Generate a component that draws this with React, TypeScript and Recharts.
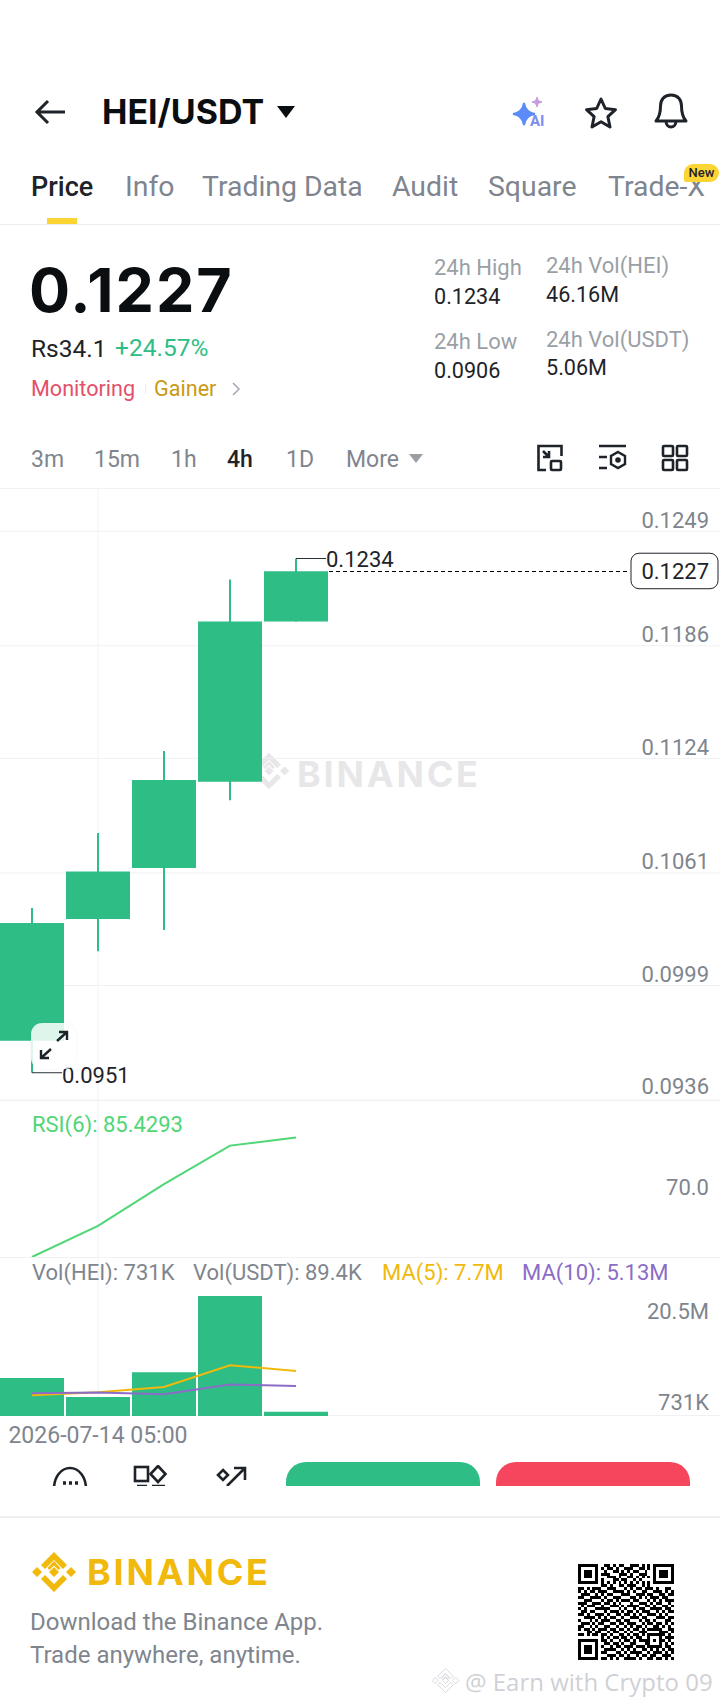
import React from "react"
import {
  Bar,
  CartesianGrid,
  ComposedChart,
  Line,
  ReferenceDot,
  XAxis,
  YAxis,
} from "recharts"

const categories = [
  "2026-07-14 01:00",
  "2026-07-14 05:00",
  "2026-07-14 09:00",
  "2026-07-14 13:00",
  "2026-07-14 17:00",
  "2026-07-14 21:00",
  "2026-07-15 01:00",
  "2026-07-15 05:00",
  "2026-07-15 09:00",
  "2026-07-15 13:00",
  "2026-07-15 17:00",
]

const opens = [0.09686, 0.10356, 0.10637, 0.11112, 0.11993]
const closes = [0.10334, 0.10617, 0.11121, 0.11993, 0.1227]
const highs = [0.10417, 0.10829, 0.11281, 0.12224, 0.1234]
const lows = [0.0951, 0.10178, 0.10296, 0.11009, 0.11993]
const rsi = [56.74, 64.24, 74.24, 83.51, 85.43]
const volumes = [6500000, 3250000, 7480000, 20500000, 731000]
const ma5 = [3550000, 4060000, 4970000, 8680000, 7700000]
const ma10 = [3890000, 4010000, 3720000, 5380000, 5130000]

const priceTicks = [0.1249, 0.1186, 0.1124, 0.1061, 0.0999, 0.0936]
const rsiTicks = [70]
const volumeTicks = [20500000, 731000]
const volumeTickLabels = ["20.5M", "731K"]

const tabs = ["Price", "Info", "Trading Data", "Audit", "Square", "Trade-X"]
const intervals = ["3m", "15m", "1h", "4h", "1D", "More"]

const qrRows = [
  "111111100110101100111010101111111",
  "100000101011010011100110101000001",
  "101110100100110101011001001011101",
  "101110101110001110100111001011101",
  "101110100011101001101010101011101",
  "100000101000110110010100001000001",
  "111111101010101010101010101111111",
  "000000001101001101110010100000000",
  "110101110011100010101101110100110",
  "101011011100111101010011001110101",
  "011100101011000111001110110011011",
  "110011110100111000110101011101100",
  "001110001011010111011000101010111",
  "111001110110101000100111010110010",
  "010111001001110101111001101001101",
  "101000111110001010010110011110110",
  "011011000101110101101011100101011",
  "110100111010011011010100111010100",
  "001111010101100100111011000111011",
  "100010101110011011000101101000110",
  "011101011001101101110010110110101",
  "110010100110010010101101001101010",
  "101101011101101101011010111110011",
  "000110110010110010100111000011101",
  "110101101101001101011010111111010",
  "000000001010110110101100100010111",
  "111111101101001011010111101011010",
  "100000100110110100110001100010101",
  "101110101001011011101110111110110",
  "101110100111100101010011010101011",
  "101110101100011010111100101110101",
  "100000100011101101001011011001110",
  "111111101101010011110100110110101",
]

const GREEN = "#2ebd85"
const GRID = "#f0f1f3"
const AXIS_TEXT = "#7f858e"
const FONT = "Roboto, sans-serif"
const HEAVY = "Inter, sans-serif"

const priceData = categories.map((category, i) => ({
  category,
  body: opens[i] === undefined ? null : [opens[i], closes[i]],
  wick: opens[i] === undefined ? null : [lows[i], highs[i]],
}))

const rsiData = categories.map((category, i) => ({ category, rsi: rsi[i] ?? null }))

const volumeData = categories.map((category, i) => ({
  category,
  volume: volumes[i] ?? null,
  ma5: ma5[i] ?? null,
  ma10: ma10[i] ?? null,
}))

function T({ x, y, size, color = "#1e2329", weight = 400, font = FONT, spacing, children }: any) {
  return (
    <div
      style={{
        position: "absolute",
        left: x,
        top: y,
        transform: "translateY(-50%)",
        fontSize: size,
        color,
        fontWeight: weight,
        fontFamily: font,
        letterSpacing: spacing,
        lineHeight: 1,
        whiteSpace: "nowrap",
      }}
    >
      {children}
    </div>
  )
}

function AxisTick({ y, payload, dy, labels, ticks }: any) {
  const idx = ticks.indexOf(payload.value)
  const text = labels ? labels[idx] : payload.value.toFixed(4)
  return (
    <text x={710} y={y + dy[idx]} textAnchor="end" dominantBaseline="central" fontSize={22} fontFamily={FONT} fill={AXIS_TEXT}>
      {text}
    </text>
  )
}

function ExtremeLabel({ cx, cy, value, dy = 1 }: any) {
  return (
    <g>
      <line x1={cx} y1={cy} x2={cx + 30} y2={cy} stroke="#2b3139" strokeWidth={1} />
      <text x={cx + 30} y={cy + dy} dominantBaseline="central" fontSize={22} fontFamily={FONT} fill="#1e2329">
        {value}
      </text>
    </g>
  )
}

function LastPrice({ cx, cy, value }: any) {
  return (
    <g>
      <line x1={cx + 33} y1={cy} x2={630} y2={cy} stroke="#000" strokeWidth={1} strokeDasharray="4 3" shapeRendering="crispEdges" />
      <rect x={632} y={cy - 18} width={87} height={35.5} rx={8} fill="#fff" stroke="#1e2329" strokeWidth={1} />
      <text x={710} y={cy} textAnchor="end" dominantBaseline="central" fontSize={22} fontFamily={FONT} fill="#1e2329">
        {value}
      </text>
    </g>
  )
}

function BinanceMark({ x, y, size, color, outline }: any) {
  const paint = outline
    ? { fill: "none", stroke: color, strokeWidth: 1.5 }
    : { fill: color }
  return (
    <svg style={{ position: "absolute", left: x, top: y }} width={size} height={size} viewBox="0 0 48 48">
      <path d="M24 17.5l4.5 4.5 2-2L24 13l-6.5 7 2 2z M24 4l-13 13 4 4 9-9 9 9 4-4z" {...paint} />
      <path d="M2 24l5-5 5 5-5 5z M36 24l5-5 5 5-5 5z M19 24l5-5 5 5-5 5z" {...paint} />
      <path d="M24 44L11 31l4-4 9 9 9-9 4 4z" {...paint} />
    </svg>
  )
}

function Qr() {
  const cell = 95.5 / qrRows.length
  return (
    <svg style={{ position: "absolute", left: 577.5, top: 1564 }} width={96} height={96} shapeRendering="crispEdges">
      {qrRows.map((row, r) =>
        row.split("").map((c, col) =>
          c === "1" ? <rect key={`${r}-${col}`} x={col * cell} y={r * cell} width={cell} height={cell} fill="#000" /> : null
        )
      )}
    </svg>
  )
}

function Icon({ x, y, w, h, children }: any) {
  return (
    <svg style={{ position: "absolute", left: x, top: y, overflow: "hidden" }} width={w} height={h} viewBox={`0 0 ${w} ${h}`} fill="none" stroke="#1e2329" strokeWidth={2.6}>
      {children}
    </svg>
  )
}

export default function App() {
  return (
    <div style={{ position: "absolute", left: 0, top: 0, width: 720, height: 1706, background: "#fff", overflow: "hidden" }}>
      {/* header */}
      <Icon x={33} y={98} w={34} h={28}>
        <path d="M32 14H4 M15 3L4 14l11 11" strokeWidth={3} />
      </Icon>
      <T x={102} y={112} size={34} weight={700} color="#0b0e11" font={HEAVY}>HEI/USDT</T>
      <svg style={{ position: "absolute", left: 277, top: 106 }} width={18} height={12}>
        <path d="M0 0h18L9 12z" fill="#0b0e11" />
      </svg>
      <svg style={{ position: "absolute", left: 511, top: 96 }} width={40} height={34} viewBox="0 0 40 34">
        <path d="M13 7c1 6.500 4 10 11 11-7 1-10 4.500-11 11-1-6.500-4-10-11-11 7-1 10-4.500 11-11z" fill="#5b8cf7" stroke="#5b8cf7" strokeWidth={2} />
        <path d="M26 1c.5 3 2 4.500 5 5-3 .5-4.500 2-5 5-.5-3-2-4.500-5-5 3-.5 4.500-2 5-5z" fill="#c79be0" stroke="#c79be0" />
        <text x={19} y={30} fontSize={15} fontWeight={700} fontFamily={FONT} fill="#7d8cf0">AI</text>
      </svg>
      <Icon x={584} y={96} w={36} h={34}>
        <path d="M17 3l4.300 9.500 10.200 1.200-7.600 7 2.100 10.300-9-5.200-9 5.200 2.100-10.300-7.600-7 10.200-1.200z" strokeWidth={3} strokeLinejoin="round" />
      </Icon>
      <Icon x={653} y={92} w={36} h={38}>
        <path d="M18 3c-7 0-10.500 5-10.500 11 0 7-1 11-4.500 15h30c-3.500-4-4.500-8-4.500-15C28.500 8 25 3 18 3z M13 29c0 4 2.500 6 5 6s5-2 5-6" strokeWidth={3} strokeLinejoin="round" />
      </Icon>

      {/* tabs */}
      {tabs.map((tab, i) => (
        <T key={tab} x={[31, 125, 202, 392, 488, 608][i]} y={187} size={i === 0 ? 27 : 28.4} weight={i === 0 ? 500 : 400} color={i === 0 ? "#1e2329" : "#7f858e"}>
          {tab}
        </T>
      ))}
      <div style={{ position: "absolute", left: 684, top: 164, width: 35, height: 18, background: "#fcd535", borderRadius: "9px 9px 9px 2px", fontSize: 13, fontWeight: 500, fontFamily: FONT, color: "#1e2329", textAlign: "center", lineHeight: "18px" }}>New</div>
      <div style={{ position: "absolute", left: 47, top: 218, width: 30, height: 6, background: "#fcd535" }} />
      <div style={{ position: "absolute", left: 0, top: 224, width: 720, height: 1, background: "#eaecef" }} />

      {/* price block */}
      <T x={29} y={290} size={61} weight={700} color="#0b0e11" font={HEAVY} spacing={2}>0.1227</T>
      <T x={31} y={349} size={24.5} color="#1e2329">Rs34.1</T>
      <T x={115} y={348} size={24.5} color={GREEN}>+24.57%</T>
      <T x={31} y={389} size={21.6} color="#e4506a">Monitoring</T>
      <div style={{ position: "absolute", left: 145, top: 384, width: 1, height: 10, background: "#eaecef" }} />
      <T x={154} y={389} size={21.6} color="#c99a14">Gainer</T>
      <svg style={{ position: "absolute", left: 231, top: 381 }} width={10} height={16}>
        <path d="M2 2l6 6-6 6" fill="none" stroke="#a4a9b0" strokeWidth={1.500} />
      </svg>

      <T x={434} y={268} size={22} color="#9a9fa6">24h High</T>
      <T x={434} y={297} size={21.6} color="#1e2329">0.1234</T>
      <T x={434} y={342} size={22} color="#9a9fa6">24h Low</T>
      <T x={434} y={371} size={21.6} color="#1e2329">0.0906</T>
      <T x={546} y={266} size={22} color="#9a9fa6">24h Vol(HEI)</T>
      <T x={546} y={295} size={21.6} color="#1e2329">46.16M</T>
      <T x={546} y={340} size={22} color="#9a9fa6">24h Vol(USDT)</T>
      <T x={546} y={368} size={21.6} color="#1e2329">5.06M</T>

      {/* interval row */}
      {intervals.map((name, i) => (
        <T key={name} x={[31, 94, 171, 227, 286, 346][i]} y={459} size={23} weight={i === 3 ? 500 : 400} color={i === 3 ? "#1e2329" : "#7f858e"}>
          {name}
        </T>
      ))}
      <svg style={{ position: "absolute", left: 409, top: 454 }} width={14} height={9}>
        <path d="M0 0h14L7 9z" fill="#9a9fa6" />
      </svg>
      <Icon x={536} y={444} w={28} h={28}>
        <path d="M10 26H2.500V2h23v10 M7 7l6 6 M13 7v6H7" />
        <rect x="15" y="17" width="10" height="9" rx="1" />
      </Icon>
      <Icon x={598} y={444} w={30} h={28}>
        <path d="M1 2h27 M1 13h8 M1 24h8" />
        <path d="M20 8l7 4v8l-7 4-7-4v-8z" strokeWidth={2.4} />
        <circle cx="20" cy="16" r="1.500" fill="#1e2329" />
      </Icon>
      <Icon x={661} y={444} w={28} h={28}>
        <rect x="2" y="2" width="10" height="10" rx="1" />
        <rect x="16" y="2" width="10" height="10" rx="1" />
        <rect x="2" y="16" width="10" height="10" rx="1" />
        <rect x="16" y="16" width="10" height="10" rx="1" />
      </Icon>
      <div style={{ position: "absolute", left: 0, top: 488, width: 720, height: 1, background: GRID }} />

      {/* chart watermark sits behind the candles */}
      <BinanceMark x={247} y={749} size={44} color="#e7e7ea" />
      <T x={297} y={774} size={36} weight={700} color="#e7e7ea" font={HEAVY} spacing={2.8}>BINANCE</T>

      {/* candles */}
      <div style={{ position: "absolute", left: -1, top: 488 }}>
        <ComposedChart width={726} height={612} data={priceData} margin={{ top: 0, right: 0, bottom: 0, left: 0 }} barCategoryGap={1}>
          <XAxis xAxisId="body" dataKey="category" hide ticks={[categories[1]]} />
          <XAxis xAxisId="wick" dataKey="category" hide />
          <YAxis yAxisId="p" domain={[0.0936, 0.12728]} ticks={priceTicks} orientation="right" mirror axisLine={false} tickLine={false} tick={<AxisTick dy={[-11, -11, -11, -11, -11, -5]} ticks={priceTicks} />} />
          <CartesianGrid xAxisId="body" yAxisId="p" stroke={GRID} syncWithTicks />
          <Bar xAxisId="wick" yAxisId="p" dataKey="wick" barSize={2} fill={GREEN} isAnimationActive={false} />
          <Bar xAxisId="body" yAxisId="p" dataKey="body" barSize={64} fill={GREEN} isAnimationActive={false} />
          <ReferenceDot xAxisId="body" yAxisId="p" x={categories[4]} y={highs[4]} shape={(p: any) => <ExtremeLabel {...p} value={highs[4].toFixed(4)} />} />
          <ReferenceDot xAxisId="body" yAxisId="p" x={categories[0]} y={lows[0]} shape={(p: any) => <ExtremeLabel {...p} dy={3} value={lows[0].toFixed(4)} />} />
          <ReferenceDot xAxisId="body" yAxisId="p" x={categories[4]} y={closes[4]} shape={(p: any) => <LastPrice {...p} value={closes[4].toFixed(4)} />} />
        </ComposedChart>
      </div>

      {/* expand button */}
      <div style={{ position: "absolute", left: 31, top: 1023, width: 45, height: 46, borderRadius: 11, background: "rgba(255,255,255,0.84)", boxShadow: "0 0 2px rgba(0,0,0,0.08)" }} />
      <Icon x={38} y={1029} w={32} h={32}>
        <path d="M19 12L29 3 M21 3h8v8 M13 20L3 29 M3 21v8h8" strokeWidth={2.4} />
      </Icon>

      {/* RSI pane */}
      <div style={{ position: "absolute", left: 0, top: 1100, width: 720, height: 1, background: GRID }} />
      <div style={{ position: "absolute", left: -1, top: 1100 }}>
        <ComposedChart width={726} height={157} data={rsiData} margin={{ top: 0, right: 0, bottom: 0, left: 0 }}>
          <XAxis dataKey="category" hide scale="band" ticks={[categories[1]]} />
          <YAxis domain={[56.74, 94.47]} ticks={rsiTicks} orientation="right" mirror axisLine={false} tickLine={false} tick={(p: any) => (
            <text x={710} y={p.y - 14} textAnchor="end" dominantBaseline="central" fontSize={22} fontFamily={FONT} fill={AXIS_TEXT}>{p.payload.value.toFixed(1)}</text>
          )} />
          <CartesianGrid stroke={GRID} horizontal={false} syncWithTicks />
          <Line dataKey="rsi" stroke="#4fd675" strokeWidth={2} dot={false} isAnimationActive={false} />
        </ComposedChart>
      </div>
      <T x={32} y={1125} size={22} color="#4fd675">RSI(6): 85.4293</T>

      {/* volume pane */}
      <div style={{ position: "absolute", left: 0, top: 1257, width: 720, height: 1, background: GRID }} />
      <div style={{ position: "absolute", left: 0, top: 1415, width: 720, height: 1, background: GRID }} />
      <div style={{ position: "absolute", left: -1, top: 1257 }}>
        <ComposedChart width={726} height={194} data={volumeData} margin={{ top: 0, right: 0, bottom: 0, left: 0 }} barCategoryGap={1}>
          <XAxis dataKey="category" ticks={[categories[1]]} interval={0} height={35} axisLine={false} tickLine={false} tick={(p: any) => (
            <text x={p.x} y={p.y + 11} textAnchor="middle" dominantBaseline="central" fontSize={23} fontFamily={FONT} fill={AXIS_TEXT}>{p.payload.value}</text>
          )} />
          <YAxis domain={[0, 27180000]} ticks={volumeTicks} orientation="right" mirror axisLine={false} tickLine={false} tick={<AxisTick dy={[15, -9]} labels={volumeTickLabels} ticks={volumeTicks} />} />
          <CartesianGrid stroke={GRID} horizontal={false} syncWithTicks />
          <Bar dataKey="volume" barSize={64} fill={GREEN} isAnimationActive={false} />
          <Line dataKey="ma5" stroke="#f0b90b" strokeWidth={2} dot={false} isAnimationActive={false} />
          <Line dataKey="ma10" stroke="#8b6cc7" strokeWidth={2} dot={false} isAnimationActive={false} />
        </ComposedChart>
      </div>
      <T x={32} y={1273} size={22} color={AXIS_TEXT}>Vol(HEI): 731K</T>
      <T x={193} y={1273} size={22} color={AXIS_TEXT}>Vol(USDT): 89.4K</T>
      <T x={382} y={1273} size={22} color="#f0b90b">MA(5): 7.7M</T>
      <T x={522} y={1273} size={22} color="#8b6cc7">MA(10): 5.13M</T>

      {/* bottom action bar, clipped like the screenshot */}
      <Icon x={52} y={1465} w={36} h={21}>
        <path d="M2 24c0-12 7-21 16-21s16 9 16 21" />
        <path d="M11 18h3 M17 18h3 M23 18h3" strokeWidth={3.500} />
      </Icon>
      <Icon x={133} y={1465} w={36} h={21}>
        <rect x="2" y="2" width="13" height="14" />
        <path d="M25 1l7.500 8-7.500 8-7.500-8z" />
        <path d="M4 21h10 M19 21h13" />
      </Icon>
      <Icon x={215} y={1465} w={34} h={21}>
        <path d="M8 5l5 5-5 5-5-5z" />
        <path d="M12 21L30 3 M19 3h11v12" />
      </Icon>
      <div style={{ position: "absolute", left: 286, top: 1462, width: 194, height: 24, background: GREEN, borderRadius: "20px 20px 0 0" }} />
      <div style={{ position: "absolute", left: 496, top: 1462, width: 194, height: 24, background: "#f6465d", borderRadius: "20px 20px 0 0" }} />
      <div style={{ position: "absolute", left: 0, top: 1516, width: 720, height: 2, background: "#eeeeee" }} />

      {/* footer */}
      <BinanceMark x={30} y={1548} size={48} color="#f0b90b" />
      <T x={87} y={1572} size={36} weight={700} color="#f0b90b" font={HEAVY} spacing={2.8}>BINANCE</T>
      <T x={30} y={1622} size={24} color="#7f858e">Download the Binance App.</T>
      <T x={30} y={1655} size={24} color="#7f858e">Trade anywhere, anytime.</T>
      <Qr />
      <BinanceMark x={431} y={1666} size={29} color="#d3d5d9" outline />
      <T x={465} y={1682} size={24} color="#cfd1d5" font="'Open Sans', sans-serif">@ Earn with Crypto 09</T>
    </div>
  )
}
